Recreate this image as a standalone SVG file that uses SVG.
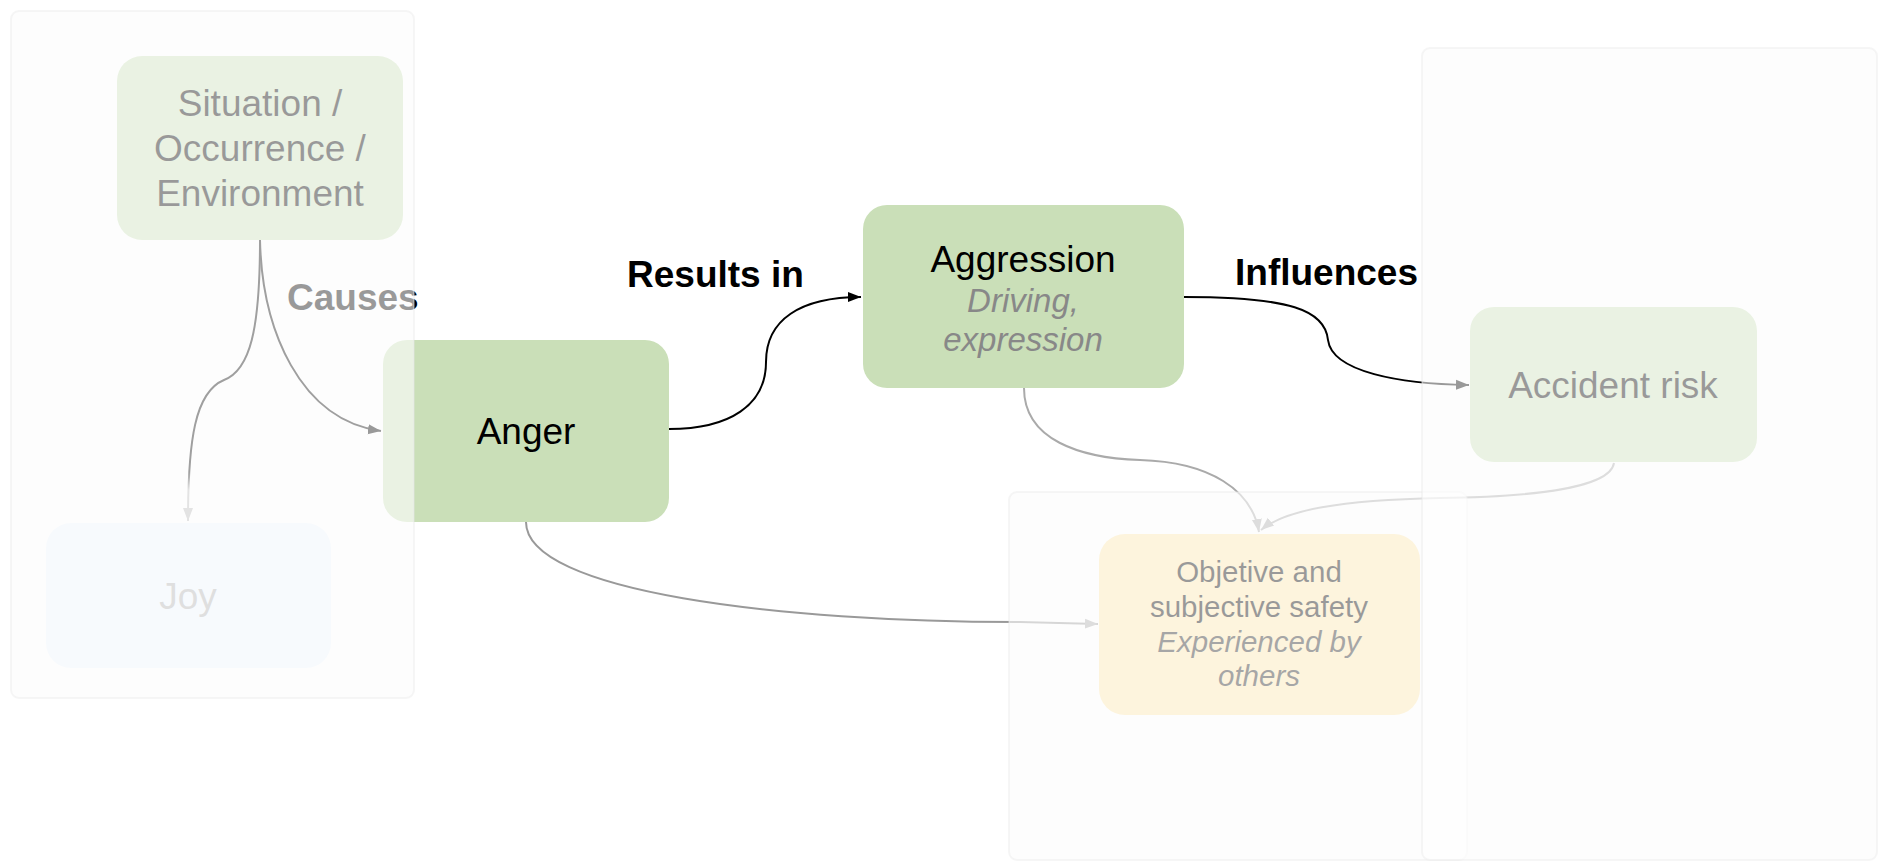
<svg xmlns="http://www.w3.org/2000/svg" width="1880" height="866" viewBox="0 0 1880 866">
  <defs>
    <style>
      text { font-family: "Liberation Sans", Arial, Helvetica, sans-serif; }
      .t { font-size: 37px; fill: #000; text-anchor: middle; }
      .sub { font-size: 33px; fill: #888; font-style: italic; text-anchor: middle; }
      .small { font-size: 29.5px; fill: #000; text-anchor: middle; }
      .smalli { font-size: 29.5px; fill: #222; font-style: italic; text-anchor: middle; }
      .lbl { font-size: 37px; font-weight: bold; fill: #000; }
      .green { fill: #cadfb8; }
      .edge { fill: none; stroke-width: 2; }
      .panelbg { fill: #fbfbfb; }
      .overlay { fill: #ffffff; fill-opacity: 0.6; stroke: #e6e6e6; stroke-opacity: 0.35; stroke-width: 2; }
    </style>
    <marker id="ah-k" markerUnits="userSpaceOnUse" markerWidth="14" markerHeight="12" viewBox="0 0 14 12" refX="13" refY="6" orient="auto">
      <path d="M0,1 L13,6 L0,11 z" fill="#000"/>
    </marker>
    <marker id="ah-g" markerUnits="userSpaceOnUse" markerWidth="14" markerHeight="12" viewBox="0 0 14 12" refX="13" refY="6" orient="auto">
      <path d="M0,1 L13,6 L0,11 z" fill="#aaa"/>
    </marker>
    <marker id="ah-j" markerUnits="userSpaceOnUse" markerWidth="14" markerHeight="12" viewBox="0 0 14 12" refX="13" refY="6" orient="auto">
      <path d="M0,1 L13,6 L0,11 z" fill="#b8b8b8"/>
    </marker>
    <linearGradient id="gj" gradientUnits="userSpaceOnUse" x1="0" y1="472" x2="0" y2="490">
      <stop offset="0" stop-color="#111"/>
      <stop offset="1" stop-color="#b8b8b8"/>
    </linearGradient>
  </defs>

  <rect x="0" y="0" width="1880" height="866" fill="#fff"/>

  <!-- panel backgrounds -->
  <g id="panel-backgrounds">
    <rect class="panelbg" x="11" y="11" width="403" height="687" rx="8"/>
    <rect class="panelbg" x="1009" y="492" width="458" height="368" rx="8"/>
    <rect class="panelbg" x="1422" y="48" width="455" height="812" rx="8"/>
  </g>

  <!-- connectors -->
  <g id="connectors">
    <path class="edge" stroke="#111" d="M260,240 C262,330 300,420 381,431" marker-end="url(#ah-k)"/>
    <path class="edge" stroke="url(#gj)" d="M260,240 C260,330 250,370 224,380 C195,392 188,440 188,521" marker-end="url(#ah-j)"/>
    <path class="edge" stroke="#000" d="M669,429 C730,429 766,405 766,362 C766,320 800,297 861,297" marker-end="url(#ah-k)"/>
    <path class="edge" stroke="#000" d="M1184,297 C1290,297 1325,310 1328,340 C1332,372 1400,384 1469,385" marker-end="url(#ah-k)"/>
    <path class="edge" stroke="#999" d="M526,522 C526,592 780,622 1020,622 L1098,624" marker-end="url(#ah-g)"/>
    <path class="edge" stroke="#aaa" d="M1024,388 C1024,440 1080,458 1140,460 C1210,462 1252,490 1259,532" marker-end="url(#ah-g)"/>
    <path class="edge" stroke="#aaa" d="M1614,463 C1610,490 1520,497 1440,498 C1340,500 1285,510 1261,530" marker-end="url(#ah-g)"/>
  </g>

  <!-- edge labels -->
  <g id="labels">
    <text class="lbl" x="287" y="310">Causes</text>
    <text class="lbl" x="627" y="287">Results in</text>
    <text class="lbl" x="1235" y="285">Influences</text>
  </g>

  <g id="node-situation">
    <rect class="green" x="117" y="56" width="286" height="184" rx="25"/>
    <text class="t" x="260" y="116">Situation /</text>
    <text class="t" x="260" y="161">Occurrence /</text>
    <text class="t" x="260" y="206">Environment</text>
  </g>

  <g id="node-joy">
    <rect x="46" y="523" width="285" height="145" rx="25" fill="#ebf2fa"/>
    <text class="t" x="188" y="609" style="fill:#afafaf">Joy</text>
  </g>

  <g id="node-anger">
    <rect class="green" x="383" y="340" width="286" height="182" rx="24"/>
    <text class="t" x="526" y="444">Anger</text>
  </g>

  <g id="node-aggression">
    <rect class="green" x="863" y="205" width="321" height="183" rx="24"/>
    <text class="t" x="1023" y="272">Aggression</text>
    <text class="sub" x="1023" y="312">Driving,</text>
    <text class="sub" x="1023" y="351">expression</text>
  </g>

  <g id="node-accident">
    <rect class="green" x="1470" y="307" width="287" height="155" rx="24"/>
    <text class="t" x="1613" y="398">Accident risk</text>
  </g>

  <g id="node-objective">
    <rect x="1099" y="534" width="321" height="181" rx="26" fill="#fae3aa"/>
    <text class="small" x="1259" y="582">Objetive and</text>
    <text class="small" x="1259" y="617">subjective safety</text>
    <text class="smalli" x="1259" y="652">Experienced by</text>
    <text class="smalli" x="1259" y="686">others</text>
  </g>

  <!-- fading overlays -->
  <g id="panel-overlays">
    <rect class="overlay" x="11" y="11" width="403" height="687" rx="8"/>
    <rect class="overlay" x="1009" y="492" width="458" height="368" rx="8"/>
    <rect class="overlay" x="1422" y="48" width="455" height="812" rx="8"/>
  </g>
</svg>
